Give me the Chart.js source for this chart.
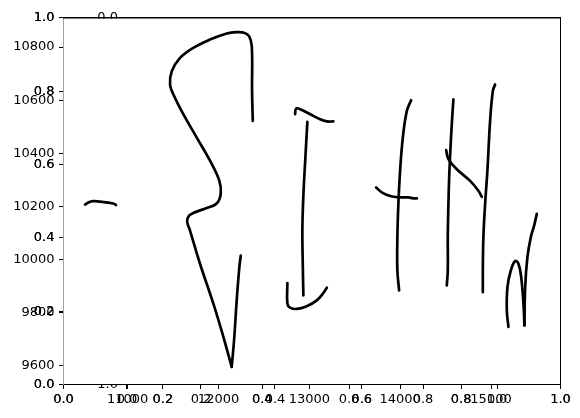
<!DOCTYPE html>
<html><head><meta charset="utf-8">
<script src="https://cdn.jsdelivr.net/npm/chart.js@4"></script>
<style>html,body{margin:0;padding:0;background:#fff}canvas{display:block}</style>
</head><body>
<canvas id="c" width="580" height="418"></canvas>
<script>
// ---- data (x, y) strokes ----
const stroke01 = [[10530,10207],[10563,10214],[10618,10220],[10695,10218],[10783,10214],[10849,10210],[10871,10205]];
const stroke02 = [[12377,10522],[12369,10634],[12366,10803],[12336,10841],[12281,10854],[12200,10856],[12090,10851],[11906,10828],[11722,10797],[11576,10759],[11485,10709],[11466,10659],[11502,10622],[11612,10547],[11760,10459],[11906,10372],[12009,10296],[12024,10247],[11980,10211],[11870,10194],[11722,10175],[11667,10161],[11656,10140],[11686,10109],[11796,9984],[11943,9834],[12053,9709],[12145,9596]];
const stroke03 = [[12145,9596],[12171,9696],[12200,9846],[12229,9971],[12245,10015]];
const stroke04 = [[12758,9911],[12758,9834],[12787,9819],[12861,9814],[12971,9824],[13081,9846],[13154,9874],[13192,9894]];
const stroke05 = [[12843,10547],[12853,10568],[12898,10566],[13008,10547],[13118,10528],[13192,10520],[13264,10520]];
const stroke06 = [[12978,10518],[12953,10365],[12934,10240],[12923,10115],[12927,9990],[12934,9865]];
const stroke07 = [[14120,10600],[14073,10559],[14029,10459],[13999,10334],[13980,10209],[13969,10084],[13969,9959],[13988,9884]];
const stroke08 = [[13735,10271],[13797,10253],[13889,10239],[13980,10234],[14090,10234],[14145,10230],[14183,10230]];
const stroke09 = [[14586,10603],[14568,10509],[14542,10334],[14531,10209],[14524,10084],[14524,9959],[14513,9903]];
const stroke10 = [[14506,10412],[14531,10378],[14623,10340],[14770,10296],[14861,10259],[14899,10236]];
const stroke11 = [[15045,10659],[15020,10634],[14990,10522],[14960,10334],[14935,10209],[14916,10084],[14910,9959],[14910,9877]];
const stroke12 = [[15192,9746],[15174,9809],[15181,9896],[15218,9959],[15265,9994],[15302,9984],[15332,9934],[15357,9834],[15368,9752]];
const stroke13 = [[15368,9752],[15376,9896],[15401,10009],[15438,10084],[15475,10128],[15504,10172]];
const strokes = [stroke01,stroke02,stroke03,stroke04,stroke05,stroke06,stroke07,stroke08,stroke09,stroke10,stroke11,stroke12,stroke13];

// ---- axes ----
const xRange = [10293, 15765];
const yRange = [9529.5, 10910];
const innerXRange = [-0.1716, 1.1716];
const unitRange = [0, 1];
const xTickValues = [11000, 12000, 13000, 14000, 15000];
const xTickLabels = ['11000', '12000', '13000', '14000', '15000'];
const yTickValues = [9600, 9800, 10000, 10200, 10400, 10600, 10800];
const yTickLabels = ['9600', '9800', '10000', '10200', '10400', '10600', '10800'];
const unitTickValues = [0, 0.2, 0.4, 0.6, 0.8, 1.0];
const unitTickLabels = ['0.0', '0.2', '0.4', '0.6', '0.8', '1.0'];

const FONT = {family: 'DejaVu Sans', size: 13};
function axis(position, range, values, labels, extra) {
  const horiz = position === 'bottom' || position === 'top';
  const base = {
    type: 'linear', position, min: range[0], max: range[1], weight: 0,
    afterBuildTicks: s => { s.ticks = values.map(v => ({value: v})); },
    ticks: {display: true, autoSkip: false, maxRotation: 0, minRotation: 0, color: '#000', font: FONT,
            padding: horiz ? 2.5 : 4.5, callback: (v, i) => labels[i]},
    grid: {display: true, drawOnChartArea: false, drawTicks: true, tickLength: 4.5, tickColor: '#000', tickWidth: 1},
    border: {display: false},
    afterFit: s => { if (horiz) s.height = 0; else s.width = 0; }
  };
  return Object.assign(base, extra || {});
}

const overlaidIds = ['x01a', 'x01b', 'xInner', 'y01a', 'y01b'];
const overlayLayout = {
  id: 'overlayLayout',
  afterLayout(chart) {
    overlaidIds.forEach(id => {
      const s = chart.scales[id];
      if (s.isHorizontal()) s.bottom = chart.height; else s.left = 0;
    });
    const yi = chart.scales.yInner;
    yi.left = 0; yi.right = 128;
  },
  beforeDatasetsDraw(chart) {
    const a = chart.chartArea, ctx = chart.ctx;
    ctx.save(); ctx.fillStyle = '#fff';
    ctx.fillRect(a.left + 0.5, a.top + 0.8, a.right - a.left - 1, a.bottom - a.top - 1.3);
    ctx.restore();
  }
};

new Chart(document.getElementById('c'), {
  type: 'scatter',
  data: {
    datasets: strokes.map(s => ({
      data: s.map(p => ({x: p[0], y: p[1]})),
      showLine: true, borderColor: '#000', borderWidth: 2.7, pointRadius: 0, pointHoverRadius: 0,
      tension: 0.4, borderCapStyle: 'round', borderJoinStyle: 'round', fill: false
    }))
  },
  options: {
    responsive: false, animation: false, devicePixelRatio: 1,
    layout: {padding: {left: 0, right: 19.5, top: 16.5, bottom: 0}},
    plugins: {legend: {display: false}, tooltip: {enabled: false}, title: {display: false}},
    events: [],
    scales: {
      x: axis('bottom', xRange, xTickValues, xTickLabels, {
        weight: 10, afterFit: s => { s.height = 33.5; },
        border: {display: true, color: '#000', width: 1, z: 1}
      }),
      y: axis('left', yRange, yTickValues, yTickLabels, {
        weight: 10, afterFit: s => { s.width = 63.5; },
        border: {display: true, color: '#a0a0a0', width: 1, z: 1}
      }),
      x01a: axis('bottom', unitRange, unitTickValues, unitTickLabels),
      x01b: axis('bottom', unitRange, unitTickValues, unitTickLabels),
      xInner: axis('bottom', innerXRange, unitTickValues, unitTickLabels),
      y01a: axis('left', unitRange, unitTickValues, unitTickLabels),
      y01b: axis('left', unitRange, unitTickValues, unitTickLabels),
      yInner: axis('left', unitRange, unitTickValues, unitTickLabels, {
        reverse: true,
        ticks: {display: true, autoSkip: false, color: '#000', font: FONT, padding: 10, callback: (v, i) => unitTickLabels[i]},
        grid: {display: false, drawTicks: false, drawOnChartArea: false}
      }),
      xTop: axis('top', unitRange, [], [], {
        ticks: {display: false}, grid: {display: false, drawTicks: false},
        border: {display: true, color: '#000', width: 1.6, z: 1}
      }),
      yRight: axis('right', unitRange, [], [], {
        ticks: {display: false}, grid: {display: false, drawTicks: false},
        border: {display: true, color: '#000', width: 1, z: 1}
      })
    }
  },
  plugins: [overlayLayout]
});
</script>
</body></html>
